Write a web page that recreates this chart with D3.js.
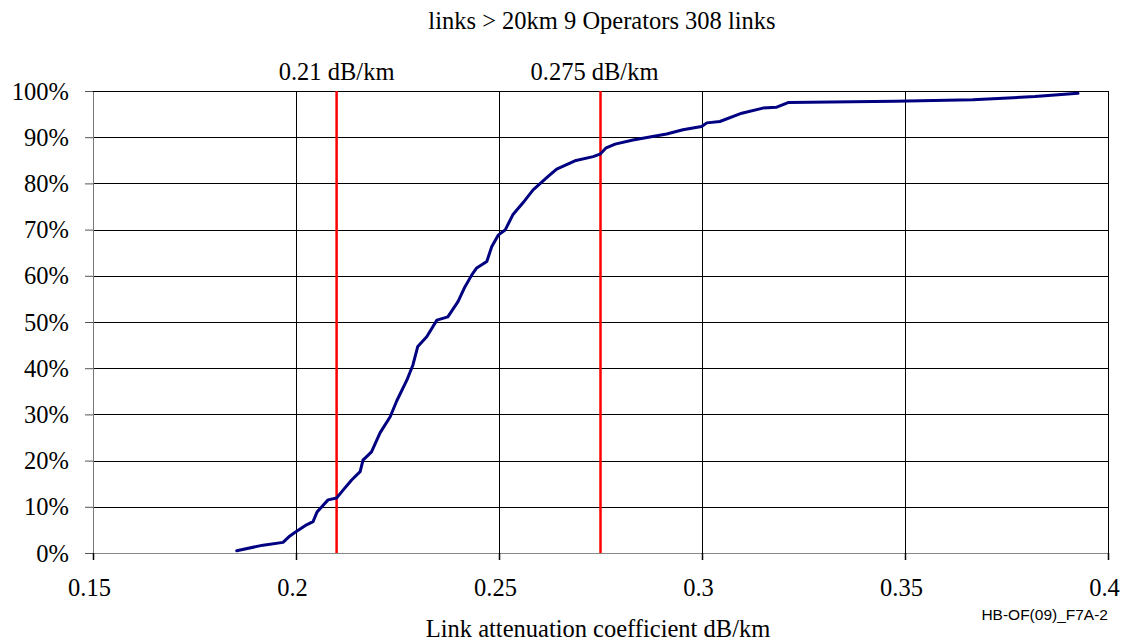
<!DOCTYPE html>
<html>
<head>
<meta charset="utf-8">
<script src="https://cdn.jsdelivr.net/npm/d3@7"></script>
<style>
  html, body { margin: 0; padding: 0; background: #fff; }
  svg { display: block; }
</style>
</head>
<body>
<svg id="chart" width="1127" height="642"></svg>
<script>
// Cumulative distribution of link attenuation coefficients (dB/km)
const attenuation = [
  0.1854, 0.1919, 0.1968, 0.1985, 0.1998, 0.2026, 0.2042, 0.2052, 0.2079, 0.2100,
  0.2116, 0.2137, 0.2158, 0.2165, 0.2186, 0.2207, 0.2232, 0.2248, 0.2273, 0.2288,
  0.2300, 0.2322, 0.2347, 0.2374, 0.2399, 0.2416, 0.2433, 0.2445, 0.2470, 0.2482,
  0.2498, 0.2515, 0.2534, 0.2559, 0.2584, 0.2621, 0.2642, 0.2687, 0.2732, 0.2750,
  0.2764, 0.2786, 0.2830, 0.2913, 0.2953, 0.2999, 0.3012, 0.3044, 0.3098, 0.3150,
  0.3184, 0.3212, 0.3475, 0.3667, 0.3820, 0.3926
];
const cumulativeShare = [
  0.5, 1.7, 2.3, 3.7, 4.5, 6.1, 6.8, 8.9, 11.5, 11.9,
  13.6, 15.8, 17.6, 20.1, 21.9, 26.0, 29.5, 32.9, 37.4, 40.7,
  44.7, 46.8, 50.4, 51.1, 54.4, 57.6, 60.2, 61.7, 63.1, 66.3,
  68.8, 69.9, 73.2, 75.8, 78.6, 81.5, 83.1, 84.9, 85.8, 86.4,
  87.7, 88.5, 89.4, 90.7, 91.6, 92.3, 93.1, 93.4, 95.2, 96.3,
  96.5, 97.5, 97.8, 98.1, 98.8, 99.5
];
const xTicks = [0.15, 0.2, 0.25, 0.3, 0.35, 0.4];
const xTickLabels = ["0.15", "0.2", "0.25", "0.3", "0.35", "0.4"];
const yTicks = [0, 10, 20, 30, 40, 50, 60, 70, 80, 90, 100];
const thresholds = [0.21, 0.275];
const thresholdLabels = ["0.21 dB/km", "0.275 dB/km"];

(function () {
  const svg = d3.select("#chart");
  const plotLeft = 93, plotRight = 1108, plotTop = 91, plotBottom = 553;

  const x = d3.scaleLinear().domain([0.15, 0.4]).range([plotLeft, plotRight]);
  const y = d3.scaleLinear().domain([0, 100]).range([plotBottom, plotTop]);

  const serif = "'Liberation Serif', 'Times New Roman', serif";
  const fs = 24.5;

  // horizontal gridlines
  svg.append("g").selectAll("line").data(yTicks.filter(d => d > 0)).join("line")
    .attr("x1", plotLeft).attr("x2", plotRight)
    .attr("y1", d => Math.round(y(d)) + 0.5).attr("y2", d => Math.round(y(d)) + 0.5)
    .attr("stroke", "#000").attr("stroke-width", 1.2);

  // vertical gridlines
  svg.append("g").selectAll("line").data(xTicks.filter(d => d > 0.15)).join("line")
    .attr("x1", d => Math.round(x(d)) + 0.5).attr("x2", d => Math.round(x(d)) + 0.5)
    .attr("y1", plotTop).attr("y2", plotBottom)
    .attr("stroke", "#000").attr("stroke-width", 1);

  // axes
  const yAxis = d3.axisLeft(y).tickValues(yTicks).tickSize(8).tickFormat(d => d + "%");
  const gy = svg.append("g").attr("transform", `translate(${plotLeft},0)`).call(yAxis);
  gy.select(".domain").attr("stroke", "#777");
  gy.selectAll(".tick line").attr("stroke", "#555");
  gy.selectAll(".tick text")
    .attr("font-family", serif).attr("font-size", fs).attr("fill", "#000")
    .attr("x", -24).attr("dy", "0.33em");

  const xAxis = d3.axisBottom(x).tickValues(xTicks).tickSize(7)
    .tickFormat((d, i) => xTickLabels[i]);
  const gx = svg.append("g").attr("transform", `translate(0,${plotBottom})`).call(xAxis);
  gx.select(".domain").attr("stroke", "#888");
  gx.selectAll(".tick line").attr("stroke", "#000").attr("stroke-width", 1.5);
  gx.selectAll(".tick text")
    .attr("font-family", serif).attr("font-size", fs).attr("fill", "#000")
    .attr("x", -4).attr("y", 43).attr("dy", null);

  // top and right frame of the plot area
  svg.append("line").attr("x1", plotLeft).attr("x2", plotRight)
    .attr("y1", plotTop + 0.5).attr("y2", plotTop + 0.5)
    .attr("stroke", "#000").attr("stroke-width", 1.2);
  svg.append("line").attr("x1", plotRight + 0.5).attr("x2", plotRight + 0.5)
    .attr("y1", plotTop).attr("y2", plotBottom)
    .attr("stroke", "#000").attr("stroke-width", 1);

  // threshold markers
  svg.append("g").selectAll("line").data(thresholds).join("line")
    .attr("x1", d => x(d)).attr("x2", d => x(d))
    .attr("y1", plotTop).attr("y2", plotBottom)
    .attr("stroke", "#ff0000").attr("stroke-width", 2.5);
  svg.append("g").selectAll("text").data(thresholds).join("text")
    .attr("x", (d, i) => x(d) - (i === 0 ? 0 : 6)).attr("y", 80)
    .attr("text-anchor", "middle")
    .attr("font-family", serif).attr("font-size", fs)
    .text((d, i) => thresholdLabels[i]);

  // distribution curve
  const points = attenuation.map((v, i) => [v, cumulativeShare[i]]);
  svg.append("path").datum(points)
    .attr("fill", "none").attr("stroke", "#000080").attr("stroke-width", 3)
    .attr("stroke-linejoin", "round").attr("stroke-linecap", "round")
    .attr("d", d3.line().x(d => x(d[0])).y(d => y(d[1])));

  // titles
  svg.append("text").attr("x", 602).attr("y", 29).attr("text-anchor", "middle")
    .attr("font-family", serif).attr("font-size", fs)
    .text("links > 20km 9 Operators 308 links");
  svg.append("text").attr("x", 598).attr("y", 637).attr("text-anchor", "middle")
    .attr("font-family", serif).attr("font-size", fs)
    .text("Link attenuation coefficient dB/km");
  svg.append("text").attr("x", 1108).attr("y", 620).attr("text-anchor", "end")
    .attr("font-family", "'Liberation Sans', Arial, sans-serif").attr("font-size", 15.5)
    .text("HB-OF(09)_F7A-2");
})();
</script>
</body>
</html>
